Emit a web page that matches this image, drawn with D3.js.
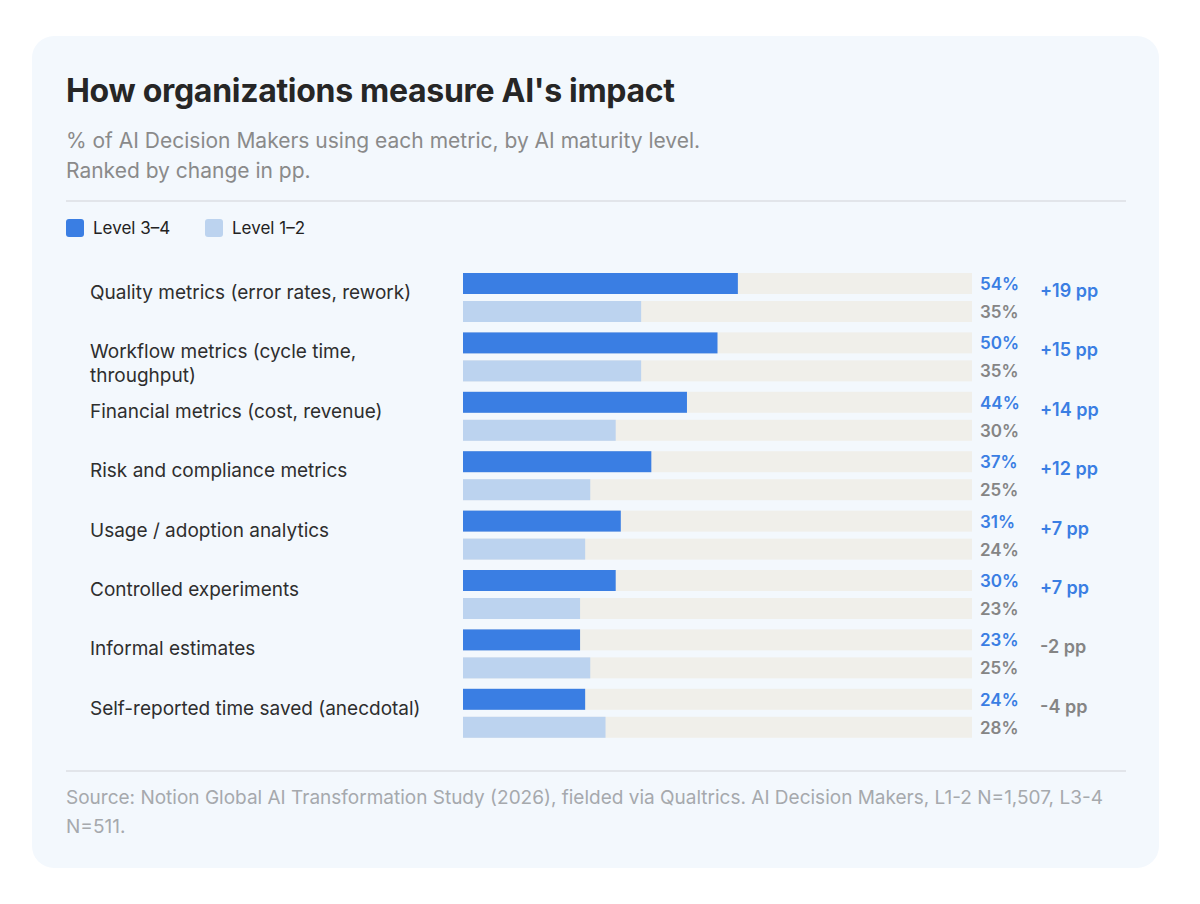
<!DOCTYPE html>
<html lang="en">
<head>
<meta charset="UTF-8">
<title>How organizations measure AI's impact</title>
<script src="https://cdn.jsdelivr.net/npm/d3@7/dist/d3.min.js"></script>
<style>
  html, body { margin: 0; padding: 0; background: #ffffff; }
  svg { display: block; font-family: Inter, "Noto Sans", sans-serif; }
</style>
</head>
<body>
<svg id="chart" width="1200" height="904"></svg>
<script>
// data
const metrics = [
  "Quality metrics (error rates, rework)",
  "Workflow metrics (cycle time,|throughput)",
  "Financial metrics (cost, revenue)",
  "Risk and compliance metrics",
  "Usage / adoption analytics",
  "Controlled experiments",
  "Informal estimates",
  "Self-reported time saved (anecdotal)"
];
const level34 = [54, 50, 44, 37, 31, 30, 23, 24];
const level12 = [35, 35, 30, 25, 24, 23, 25, 28];
const changePP = [19, 15, 14, 12, 7, 7, -2, -4];
const seriesNames = ["Level 3\u20134", "Level 1\u20132"];

const BLUE = "#3a7ee3", LIGHT = "#bcd3ef", TRACK = "#f0efea";
const svg = d3.select("#chart");

// card
svg.append("rect")
  .attr("x", 32).attr("y", 36).attr("width", 1127).attr("height", 832)
  .attr("rx", 22).attr("fill", "#f3f8fd");

svg.append("text").attr("x", 66).attr("y", 102)
  .attr("font-size", 32).attr("font-weight", 700).attr("fill", "#262626")
  .attr("letter-spacing", -0.3)
  .text("How organizations measure AI's impact");

const sub = svg.append("text").attr("font-size", 21).attr("fill", "#8a8a8a");
sub.append("tspan").attr("x", 66).attr("y", 148)
  .text("% of AI Decision Makers using each metric, by AI maturity level.");
sub.append("tspan").attr("x", 66).attr("y", 178).text("Ranked by change in pp.");

svg.append("line").attr("x1", 66).attr("x2", 1126).attr("y1", 201).attr("y2", 201)
  .attr("stroke", "#dcdfe3").attr("stroke-width", 1.5);

// legend
const legend = svg.append("g").selectAll("g")
  .data(seriesNames).join("g")
  .attr("transform", (d, i) => `translate(${66 + i * 139},219)`);
legend.append("rect").attr("width", 18).attr("height", 18).attr("rx", 3)
  .attr("fill", (d, i) => i === 0 ? BLUE : LIGHT);
legend.append("text").attr("x", 27).attr("y", 15)
  .attr("font-size", 17).attr("fill", "#222").text(d => d);

// scales
const x = d3.scaleLinear().domain([0, 100]).range([463, 972]);
const y = d3.scaleBand().domain(d3.range(metrics.length)).range([273, 273 + 59.4 * 8]).paddingInner(0);
const barH = 21, gap = 7;

const groups = svg.append("g").selectAll("g")
  .data(metrics.map((m, i) => ({ m, i, a: level34[i], b: level12[i], pp: changePP[i] })))
  .join("g")
  .attr("transform", d => `translate(0,${y(d.i)})`);

// category labels
groups.append("text").attr("font-size", 19).attr("fill", "#2e2e2e")
  .selectAll("tspan").data(d => d.m.split("|")).join("tspan")
  .attr("x", 90).attr("y", (d, j) => 26 + j * 24).text(d => d);

// tracks
[0, barH + gap].forEach(off => {
  groups.append("rect").attr("x", x(0)).attr("y", off)
    .attr("width", x(100) - x(0)).attr("height", barH).attr("fill", TRACK);
});

groups.append("rect").attr("x", x(0)).attr("y", 0)
  .attr("width", d => x(d.a) - x(0)).attr("height", barH).attr("fill", BLUE);
groups.append("rect").attr("x", x(0)).attr("y", barH + gap)
  .attr("width", d => x(d.b) - x(0)).attr("height", barH).attr("fill", LIGHT);

// value labels
groups.append("text").attr("x", 980).attr("y", 17)
  .attr("font-size", 17).attr("font-weight", 600).attr("fill", BLUE)
  .text(d => d.a + "%");
groups.append("text").attr("x", 980).attr("y", barH + gap + 17)
  .attr("font-size", 17).attr("font-weight", 600).attr("fill", "#858585")
  .text(d => d.b + "%");

groups.append("text").attr("x", 1040).attr("y", 24)
  .attr("font-size", 18).attr("font-weight", 600)
  .attr("fill", d => d.pp > 0 ? BLUE : "#858585")
  .text(d => (d.pp > 0 ? "+" : "") + d.pp + " pp");

// footer
svg.append("line").attr("x1", 66).attr("x2", 1126).attr("y1", 771).attr("y2", 771)
  .attr("stroke", "#dcdfe3").attr("stroke-width", 1.5);
const src = svg.append("text").attr("font-size", 19).attr("fill", "#a6a9ad");
src.append("tspan").attr("x", 66).attr("y", 804)
  .text("Source: Notion Global AI Transformation Study (2026), fielded via Qualtrics. AI Decision Makers, L1-2 N=1,507, L3-4");
src.append("tspan").attr("x", 66).attr("y", 833).text("N=511.");
</script>
</body>
</html>
